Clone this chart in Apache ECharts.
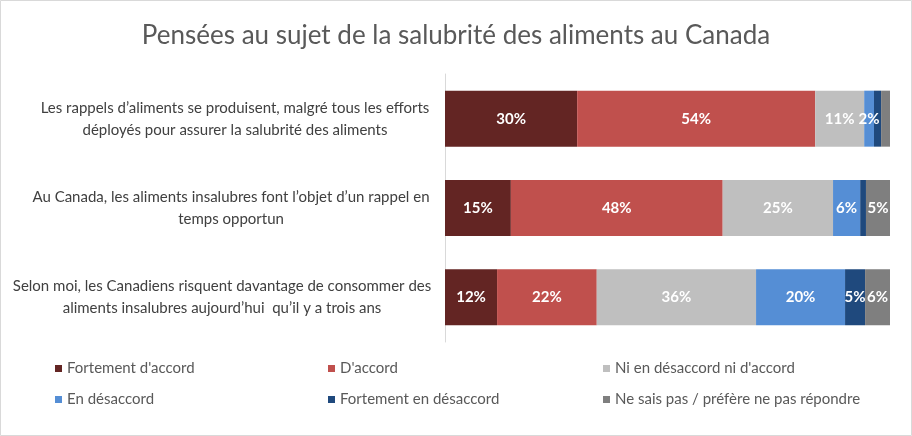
<!DOCTYPE html>
<html>
<head>
<meta charset="utf-8">
<script src="https://cdn.jsdelivr.net/npm/echarts@6/dist/echarts.min.js"></script>
<style>html,body{margin:0;padding:0;background:#fff}#c{width:912px;height:436px}</style>
</head>
<body>
<div id="c"></div>
<script>
const title = "Pensées au sujet de la salubrité des aliments au Canada";
const categories = [
  "Les rappels d’aliments se produisent, malgré tous les efforts\ndéployés pour assurer la salubrité des aliments",
  "Au Canada, les aliments insalubres font l’objet d’un rappel en\ntemps opportun",
  "Selon moi, les Canadiens risquent davantage de consommer des\naliments insalubres aujourd’hui  qu’il y a trois ans"
];
const seriesNames = ["Fortement d'accord", "D'accord", "Ni en désaccord ni d'accord", "En désaccord", "Fortement en désaccord", "Ne sais pas / préfère ne pas répondre"];
const fortementAccord = [29.7, 14.8, 11.7];
const accord = [53.5, 47.6, 22.4];
const neutre = [11.0, 24.8, 35.8];
const desaccord = [2.2, 6.1, 20.0];
const fortementDesaccord = [1.6, 1.3, 4.5];
const nsp = [2.0, 5.4, 5.6];
const shownLabels = [
  [true, true, true],
  [true, true, true],
  [true, true, true],
  [true, true, true],
  [false, false, true],
  [false, true, true]
];
const colors = ["#632523", "#C0504D", "#BFBFBF", "#558ED5", "#1F497D", "#7F7F7F"];
const allValues = [fortementAccord, accord, neutre, desaccord, fortementDesaccord, nsp];
const FONT = "Lato";
const catPads = [[0, 0, 0, 8], [0, 0, 0, 0], [0, 18, 0, 0]];

const chart = echarts.init(document.getElementById('c'), null, {renderer: 'canvas'});
const legendPos = [[55,361],[328,361],[603,361],[55,392],[328,392],[603,392]];
const option = {
  animation: false,
  backgroundColor: '#fff',
  title: {
    text: title, left: 'center', top: 18,
    textStyle: {fontFamily: FONT, fontSize: 26, fontWeight: 'normal', color: '#595959'}
  },
  legend: seriesNames.map((n, i) => ({
    data: [n], left: legendPos[i][0], top: legendPos[i][1], padding: 0,
    itemWidth: 7, itemHeight: 7, icon: 'rect',
    textStyle: {fontFamily: FONT, fontSize: 15, color: '#595959'}
  })),
  grid: {left: 445, right: 22, top: 74, bottom: 94, containLabel: false, outerBoundsMode: 'none'},
  xAxis: {type: 'value', min: 0, max: 100, show: false},
  yAxis: {
    type: 'category', inverse: true,
    data: categories.map((c, i) => ({value: c, textStyle: {align: 'center', padding: catPads[i]}})),
    axisLine: {lineStyle: {color: '#D9D9D9', width: 1}},
    axisTick: {show: false},
    axisLabel: {align: 'center', margin: 214, fontFamily: FONT, fontSize: 15, color: '#404040', lineHeight: 22}
  },
  graphic: [{type: 'rect', shape: {x: 0.5, y: 0.5, width: 911, height: 435}, style: {fill: 'none', stroke: '#D9D9D9', lineWidth: 1}, silent: true, z: -1}],
  series: seriesNames.map((n, i) => ({
    name: n, type: 'bar', stack: 'total', barWidth: 56,
    itemStyle: {color: colors[i]},
    label: {show: true, position: 'inside', color: '#fff', fontFamily: FONT, fontWeight: 'bold', fontSize: 15,
      formatter: p => Math.round(p.value) + '%'},
    data: allValues[i].map((v, j) => ({value: v, label: {show: shownLabels[i][j]}}))
  }))
};
chart.setOption(option);
</script>
</body>
</html>
